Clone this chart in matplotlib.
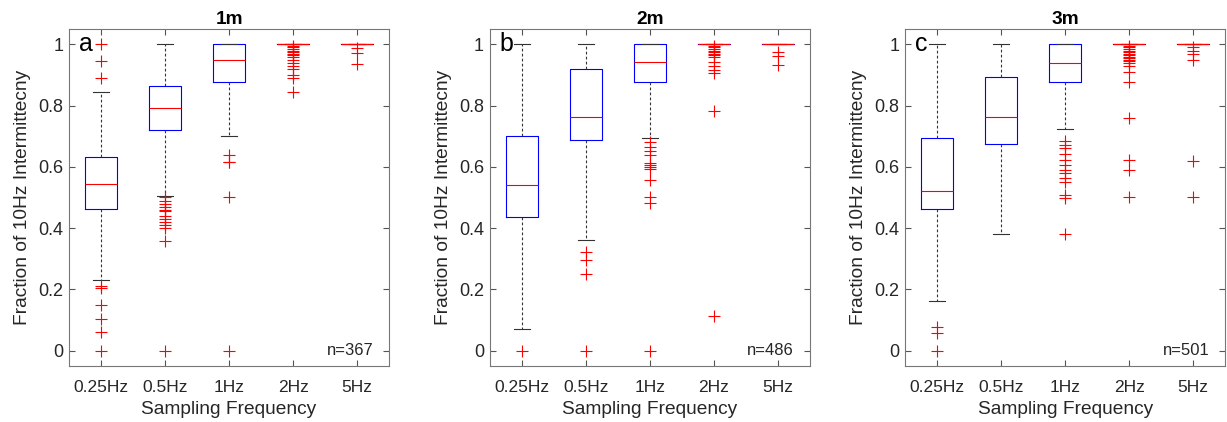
import matplotlib
matplotlib.use("Agg")
import matplotlib.pyplot as plt

plt.rcParams['font.family'] = ['Liberation Sans', 'DejaVu Sans']

freqs = ['0.25Hz', '0.5Hz', '1Hz', '2Hz', '5Hz']
titles = ['1m', '2m', '3m']
letters = ['a', 'b', 'c']
counts = [367, 486, 501]

# box summaries per panel: (q1, median, q3, lower whisker, upper whisker)
box_1m = [(0.462, 0.545, 0.632, 0.231, 0.845),
          (0.721, 0.791, 0.863, 0.506, 1.0),
          (0.878, 0.948, 1.0, 0.701, 1.0),
          (1.0, 1.0, 1.0, 1.0, 1.0),
          (1.0, 1.0, 1.0, 1.0, 1.0)]
box_2m = [(0.435, 0.540, 0.701, 0.071, 1.0),
          (0.688, 0.763, 0.921, 0.360, 1.0),
          (0.876, 0.941, 1.0, 0.693, 1.0),
          (1.0, 1.0, 1.0, 1.0, 1.0),
          (1.0, 1.0, 1.0, 1.0, 1.0)]
box_3m = [(0.461, 0.521, 0.693, 0.163, 1.0),
          (0.675, 0.764, 0.894, 0.382, 1.0),
          (0.876, 0.938, 1.0, 0.724, 1.0),
          (1.0, 1.0, 1.0, 1.0, 1.0),
          (1.0, 1.0, 1.0, 1.0, 1.0)]

# outliers per panel
out_1m = [[1.0, 0.947, 0.889, 0.211, 0.203, 0.149, 0.104, 0.061, 0.0],
          [0.5, 0.49, 0.48, 0.47, 0.46, 0.455, 0.44, 0.43, 0.42, 0.41, 0.40, 0.359, 0.0],
          [0.64, 0.617, 0.615, 0.5, 0.0],
          [0.995, 0.99, 0.985, 0.98, 0.975, 0.97, 0.965, 0.96, 0.95, 0.94, 0.93, 0.919, 0.899, 0.889, 0.843],
          [0.987, 0.971, 0.937]]
out_2m = [[0.0],
          [0.322, 0.296, 0.249, 0.0],
          [0.680, 0.666, 0.653, 0.640, 0.612, 0.606, 0.601, 0.594, 0.556, 0.503, 0.483, 0.0],
          [0.995, 0.99, 0.985, 0.98, 0.975, 0.97, 0.965, 0.96, 0.943, 0.930, 0.918, 0.908, 0.782, 0.114],
          [0.974, 0.962, 0.934]]
out_3m = [[0.078, 0.057, 0.0],
          [],
          [0.684, 0.671, 0.661, 0.642, 0.622, 0.606, 0.590, 0.579, 0.563, 0.552, 0.508, 0.499, 0.381],
          [0.995, 0.99, 0.985, 0.98, 0.975, 0.97, 0.965, 0.96, 0.955, 0.95, 0.945, 0.94, 0.929, 0.911,
           0.876, 0.761, 0.622, 0.590, 0.501],
          [0.99, 0.979, 0.968, 0.949, 0.619, 0.501]]

boxes = [box_1m, box_2m, box_3m]
outliers = [out_1m, out_2m, out_3m]

text_col = '#262626'
fig = plt.figure(figsize=(12.27, 4.22), dpi=100)
lefts = [0.0562, 0.399, 0.7376]

for i in range(3):
    ax = fig.add_axes([lefts[i], 0.133, 0.261, 0.798])
    stats = []
    for (q1, med, q3, lo, hi), fl in zip(boxes[i], outliers[i]):
        stats.append(dict(q1=q1, med=med, q3=q3, whislo=lo, whishi=hi, fliers=fl))
    ax.bxp(stats, positions=range(1, 6), widths=0.5, capwidths=0.25,
           boxprops=dict(color='blue', linewidth=0.8),
           medianprops=dict(color='red', linewidth=0.8),
           whiskerprops=dict(color='#333333', linewidth=0.8, linestyle=(0, (2.5, 2))),
           capprops=dict(color='#333333', linewidth=0.8),
           flierprops=dict(marker='+', markeredgecolor='red', markersize=8,
                           markeredgewidth=0.8, linestyle='none'))
    ax.set_xlim(0.5, 5.5)
    ax.set_ylim(-0.05, 1.05)
    ax.set_yticks([0, 0.2, 0.4, 0.6, 0.8, 1])
    ax.set_yticklabels(['0', '0.2', '0.4', '0.6', '0.8', '1'])
    ax.set_xticks(range(1, 6))
    ax.set_xticklabels(freqs)
    ax.tick_params(direction='in', top=True, right=True, colors='#555555',
                   labelcolor=text_col, length=4)
    ax.tick_params(axis='x', labelsize=12.5, pad=10)
    ax.tick_params(axis='y', labelsize=13, pad=4)
    for s in ax.spines.values():
        s.set_color('#777777')
        s.set_linewidth(0.8)
    ax.set_xlabel('Sampling Frequency', fontsize=13.8, color=text_col, labelpad=4.5)
    ax.set_ylabel('Fraction of 10Hz Intermittecny', fontsize=13.8, color=text_col, labelpad=5)
    ax.set_title(titles[i], fontsize=13.8, fontweight='bold', color='black', pad=4)
    ax.text(0.03, 0.955, letters[i], transform=ax.transAxes, fontsize=18,
            color='black', va='center', ha='left')
    ax.text(0.95, 0.047, 'n=%d' % counts[i], transform=ax.transAxes, fontsize=12,
            color=text_col, va='center', ha='right')

plt.savefig('out.png', dpi=100)
